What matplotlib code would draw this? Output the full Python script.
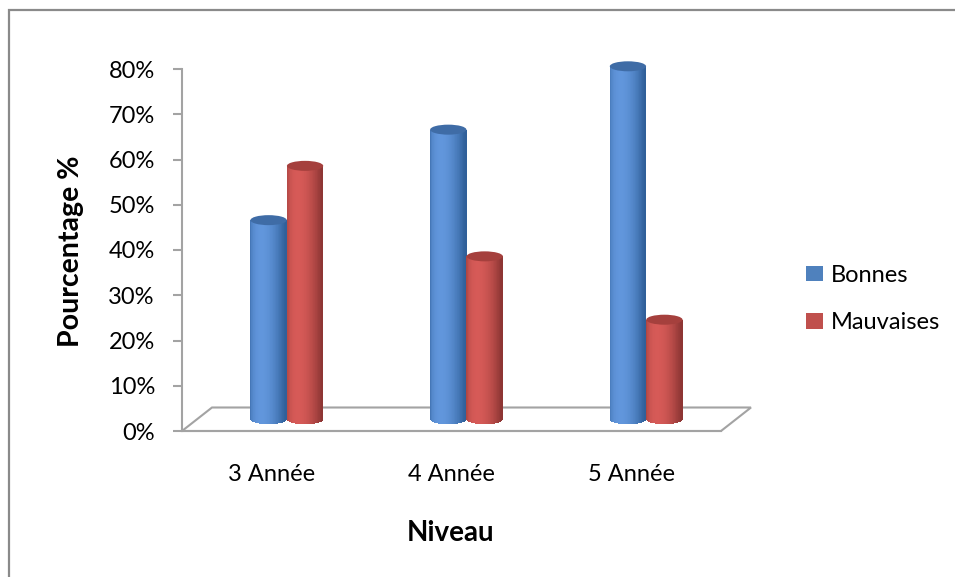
import numpy as np
import matplotlib
matplotlib.use("Agg")
import matplotlib.pyplot as plt
from matplotlib.patches import Ellipse, Rectangle, Patch, Polygon
from matplotlib.transforms import Affine2D
from matplotlib.colors import to_rgb

# ---- data ----
categories = ["3 Année", "4 Année", "5 Année"]
series_names = ["Bonnes", "Mauvaises"]
bonnes = [0.44, 0.64, 0.78]
mauvaises = [0.56, 0.36, 0.22]
y_ticks = [0.0, 0.1, 0.2, 0.3, 0.4, 0.5, 0.6, 0.7, 0.8]
y_tick_labels = ["0%", "10%", "20%", "30%", "40%", "50%", "60%", "70%", "80%"]

# ---- style ----
plt.rcParams["font.family"] = ["Lato", "DejaVu Sans"]
AXIS_GREY = "#a3a3a3"
BORDER_GREY = "#8a8a8a"
BLUE = dict(dark="#30609a", light="#6196dc", top="#3f6ca6", legend="#4f81bd")
RED = dict(dark="#8e3634", light="#d65a57", top="#a5403d", legend="#c0504d")

W, H, DPI = 955, 577, 100
fig = plt.figure(figsize=(W / DPI, H / DPI), dpi=DPI)

# chart frame around the whole drawing
fig.patches.append(Rectangle((9 / W, -0.2), 1.5, 1.2 - 10 / H,
                             transform=fig.transFigure, fill=False,
                             edgecolor=BORDER_GREY, linewidth=1.6))

ax_px = (182, 146, 539, 362)  # left, bottom, width, height (pixels)
ax = fig.add_axes([ax_px[0] / W, ax_px[1] / H, ax_px[2] / W, ax_px[3] / H])
ax.set_xlim(-0.5, len(categories) - 0.5)
ax.set_ylim(0, 0.8)
ax.patch.set_alpha(0)

# oblique depth of the 3D floor, expressed in data units
px_per_x = ax_px[2] / len(categories)
px_per_y = ax_px[3] / 0.8
depth_dx = 30 / px_per_x
depth_dy = 23.5 / px_per_y
floor_tr = Affine2D(np.array([[1.0, depth_dx, 0.0],
                              [0.0, depth_dy, 0.0],
                              [0.0, 0.0, 1.0]])) + ax.transData
mid_tr = Affine2D().translate(depth_dx / 2, depth_dy / 2) + ax.transData

# floor outline (front edge is the bottom spine)
ax.add_patch(Polygon([(-0.5, 0), (2.5, 0), (2.5, 1), (-0.5, 1)], closed=True,
                     fill=False, edgecolor=AXIS_GREY, linewidth=1.5,
                     transform=floor_tr, zorder=1, clip_on=False))

# ---- cylinders ----
bar_w = 0.203
ell_h = 10 / px_per_y
n_strips = 60
u = (np.arange(n_strips) + 0.5) / n_strips * 2 - 1


def shade(palette):
    dark = np.array(to_rgb(palette["dark"]))
    light = np.array(to_rgb(palette["light"]))
    ang = np.arcsin(u)
    t = np.clip(np.cos(ang + 0.4), 0, 1) ** 1.4
    return [tuple(dark + (light - dark) * k) for k in t]


for vals, pal, side in ((bonnes, BLUE, -1), (mauvaises, RED, 1)):
    cols = shade(pal)
    for i, v in enumerate(vals):
        xc = i + side * bar_w / 2
        xs = xc + u * bar_w / 2
        arc = ell_h / 2 * np.sqrt(1 - u ** 2)
        ax.bar(xs, v + arc, width=bar_w / n_strips * 1.3, bottom=-arc,
               color=cols, linewidth=0, transform=mid_tr, zorder=3,
               clip_on=False)
        ax.add_patch(Ellipse((xc, v), bar_w * 0.995, ell_h, facecolor=pal["top"],
                             linewidth=0, transform=mid_tr, zorder=4,
                             clip_on=False))

# ---- axes styling ----
for s in ("top", "right"):
    ax.spines[s].set_visible(False)
for s in ("left", "bottom"):
    ax.spines[s].set_color(AXIS_GREY)
    ax.spines[s].set_linewidth(1.5)

ax.set_yticks(y_ticks, y_tick_labels)
ax.tick_params(axis="y", direction="out", length=6.5, width=1.5,
               color=AXIS_GREY, pad=13, labelsize=17, labelcolor="black")
ax.set_xticks(range(len(categories)), categories)
ax.tick_params(axis="x", length=0, pad=24, labelsize=17, labelcolor="black")

ax.set_ylabel("Pourcentage %", fontsize=20.5, fontweight="bold")
ax.yaxis.set_label_coords(-0.182, 0.497)
ax.set_xlabel("Niveau", fontsize=20, fontweight="bold")
ax.xaxis.set_label_coords(0.499, -0.245)

handles = [Patch(facecolor=BLUE["legend"]), Patch(facecolor=RED["legend"])]
fig.legend(handles, series_names, loc="center left",
           bbox_to_anchor=(797 / W, 1 - 299 / H), frameon=False,
           fontsize=17, handlelength=0.7, handleheight=0.62,
           handletextpad=0.35, labelspacing=1.12, borderaxespad=0)

fig.savefig("out.png", dpi=DPI)
